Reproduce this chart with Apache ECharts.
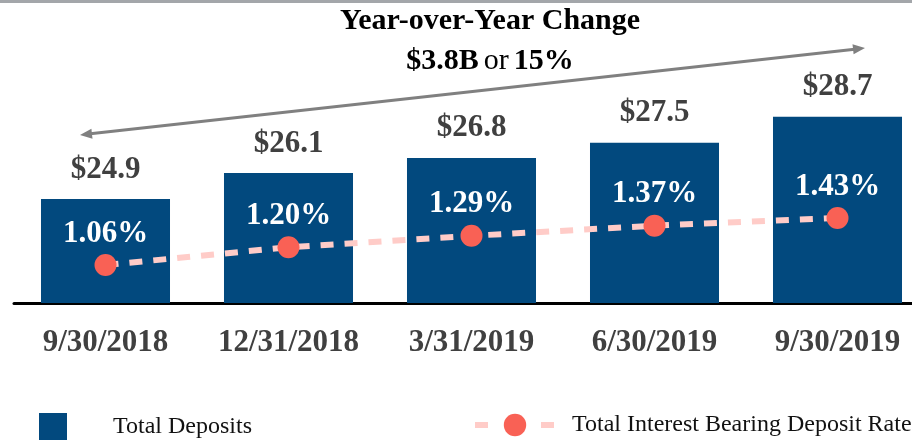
<!DOCTYPE html>
<html>
<head>
<meta charset="utf-8">
<script src="https://cdn.jsdelivr.net/npm/echarts@6/dist/echarts.min.js"></script>
<style>
  html, body { margin: 0; padding: 0; background: #fff; }
  #chart { width: 912px; height: 440px; }
</style>
</head>
<body>
<div id="chart"></div>
<script>
// quarter ends
var categories = ['9/30/2018', '12/31/2018', '3/31/2019', '6/30/2019', '9/30/2019']
// total deposits, $B
var deposits = [24.9, 26.1, 26.8, 27.5, 28.7]
// total interest bearing deposit rate, %
var depositRate = [1.06, 1.20, 1.29, 1.37, 1.43]

var serif = 'Liberation Serif'
var chart = echarts.init(document.getElementById('chart'))

chart.setOption({
  animation: false,
  title: {
    text: '{b|Year-over-Year Change}\n{b|$3.8B} {n|or} {b|15%}',
    left: 490,
    top: 1,
    padding: 0,
    textAlign: 'center',
    textStyle: {
      rich: {
        b: { fontFamily: serif, fontWeight: 'bold', fontSize: 30, color: '#000', lineHeight: 40 },
        n: { fontFamily: serif, fontWeight: 'normal', fontSize: 30, color: '#000', lineHeight: 40 }
      }
    }
  },
  grid: {
    left: 14,
    top: 60,
    width: 915,
    height: 243,
    outerBoundsMode: 'none'
  },
  legend: [
    {
      data: ['Total Deposits'],
      left: 39,
      top: 413,
      padding: 0,
      icon: 'rect',
      itemWidth: 28,
      itemHeight: 28,
      selectedMode: false,
      textStyle: { fontFamily: serif, fontSize: 24, color: '#111', padding: [0, 0, 0, 41] }
    },
    {
      data: ['Total Interest Bearing Deposit Rate'],
      left: 472,
      top: 413,
      padding: 0,
      itemWidth: 80,
      itemHeight: 28,
      selectedMode: false,
      lineStyle: { type: [13, 53], width: 6 },
      textStyle: { fontFamily: serif, fontSize: 24, color: '#111', padding: [0, 0, 0, 12] }
    }
  ],
  xAxis: {
    type: 'category',
    data: categories,
    axisLine: { lineStyle: { color: '#000', width: 3 } },
    axisTick: { show: false },
    axisLabel: {
      interval: 0,
      margin: 24,
      fontFamily: serif,
      fontWeight: 'bold',
      fontSize: 31,
      color: '#404040'
    }
  },
  yAxis: [
    { type: 'value', min: 20.1, max: 31.32, show: false, splitLine: { show: false } },
    { type: 'value', min: 0.761, max: 2.674, show: false, splitLine: { show: false } }
  ],
  series: [
    {
      name: 'Total Deposits',
      type: 'bar',
      data: deposits,
      barCategoryGap: '29.5%',
      itemStyle: { color: '#02497E' },
      label: {
        show: true,
        position: 'top',
        distance: 14,
        formatter: function(p) { return '$' + p.value.toFixed(1) },
        fontFamily: serif,
        fontWeight: 'bold',
        fontSize: 31,
        color: '#404040'
      }
    },
    {
      name: 'Total Interest Bearing Deposit Rate',
      type: 'line',
      yAxisIndex: 1,
      data: depositRate,
      symbol: 'circle',
      symbolSize: 22,
      itemStyle: { color: '#F96155' },
      lineStyle: { color: '#FFCCC8', width: 6, type: [13, 11] },
      label: {
        show: true,
        position: 'top',
        distance: 5,
        formatter: function(p) { return p.value.toFixed(2) + '%' },
        fontFamily: serif,
        fontWeight: 'bold',
        fontSize: 31,
        color: '#fff'
      },
      z: 3
    }
  ],
  graphic: [
    { type: 'rect', left: 0, top: 0, shape: { x: 0, y: 0, width: 912, height: 3 }, style: { fill: '#A3A6AA' } },
    { type: 'line', shape: { x1: 88, y1: 134.1, x2: 857, y2: 48.9 }, style: { stroke: '#808080', lineWidth: 3 } },
    { type: 'polygon', shape: { points: [[80, 135], [92.5, 138.7], [91.4, 128.7]] }, style: { fill: '#808080' } },
    { type: 'polygon', shape: { points: [[865, 48], [853.6, 54.3], [852.5, 44.3]] }, style: { fill: '#808080' } }
  ]
})
</script>
</body>
</html>
